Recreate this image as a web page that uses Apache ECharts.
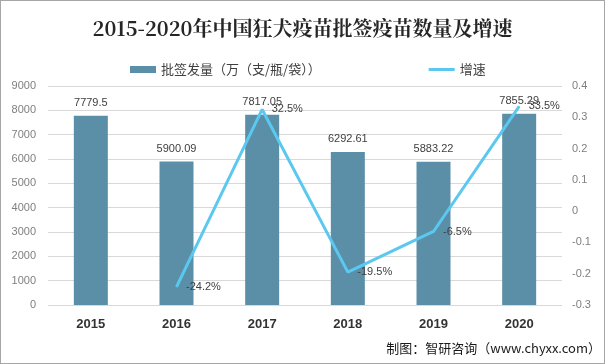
<!DOCTYPE html>
<html><head><meta charset="utf-8">
<script src="https://cdn.jsdelivr.net/npm/echarts@6/dist/echarts.min.js"></script>
<style>html,body{margin:0;padding:0;background:#fff}#c{width:605px;height:364px;box-sizing:border-box;border:1px solid #a6a6a6}</style>
</head><body><div id="c"></div>
<script>
var categories = ['2015','2016','2017','2018','2019','2020'];
var batchValues = [7779.5, 5900.09, 7817.05, 6292.61, 5883.22, 7855.29];
var growthValues = [null, -0.242, 0.325, -0.195, -0.065, 0.335];
var growthLabels = ['', '-24.2%', '32.5%', '-19.5%', '-6.5%', '33.5%'];
var leftTicks = [0, 9000, 1000];
var rightTicks = [-0.3, 0.4, 0.1];

var chart = echarts.init(document.getElementById('c'));
chart.setOption({
  animation: false,
  title: {
    text: '2015-2020年中国狂犬疫苗批签疫苗数量及增速',
    left: 'center', top: 12,
    textStyle: {fontFamily: 'Noto Serif CJK SC, serif', fontWeight: 'bold', fontSize: 20, color: '#262626'}
  },
  legend: {
    top: 57, left: 124,
    itemGap: 108,
    itemWidth: 26, itemHeight: 7,
    textStyle: {fontSize: 13, color: '#404040', fontFamily: 'Noto Sans CJK SC'},
    data: [
      {name: '批签发量（万（支/瓶/袋））', icon: 'rect'},
      {name: '增速', icon: 'path://M0,0 L26,0 L26,3 L0,3 Z'}
    ]
  },
  grid: {left: 47, right: 42, top: 85, bottom: 58},
  xAxis: {
    type: 'category', data: categories,
    axisLine: {show: false}, axisTick: {show: false},
    axisLabel: {fontWeight: 'bold', fontSize: 13, color: '#333', margin: 13}
  },
  yAxis: [
    {type: 'value', min: leftTicks[0], max: leftTicks[1], interval: leftTicks[2],
     axisLabel: {color: '#7f7f7f', fontSize: 11, margin: 12,
       formatter: function(v){ return String(v); }},
     splitLine: {lineStyle: {color: '#d9d9d9'}}},
    {type: 'value', min: rightTicks[0], max: rightTicks[1], interval: rightTicks[2],
     axisLabel: {color: '#7f7f7f', fontSize: 11, margin: 10,
       formatter: function(v){ return String(Math.round(v*10)/10); }},
     splitLine: {show: false}}
  ],
  series: [
    {name: '批签发量（万（支/瓶/袋））', type: 'bar', data: batchValues, barWidth: 34,
     itemStyle: {color: '#5b8fa8'},
     label: {show: true, position: 'top', color: '#404040', fontSize: 11, distance: 7}},
    {name: '增速', type: 'line', yAxisIndex: 1, data: growthValues, connectNulls: false,
     symbol: 'circle', symbolSize: 1, showSymbol: true,
     lineStyle: {color: '#5bc8f0', width: 3}, itemStyle: {color: '#5bc8f0'},
     label: {show: true, position: 'right', color: '#404040', fontSize: 11, distance: 9,
       formatter: function(p){ return growthLabels[p.dataIndex]; }}}
  ],
  graphic: [{type: 'text', right: 3, top: 341,
    style: {text: '制图：智研咨询（www.chyxx.com）', fontSize: 13, fill: '#1a1a1a', fontFamily: 'Noto Sans CJK SC'}}]
});
</script></body></html>
